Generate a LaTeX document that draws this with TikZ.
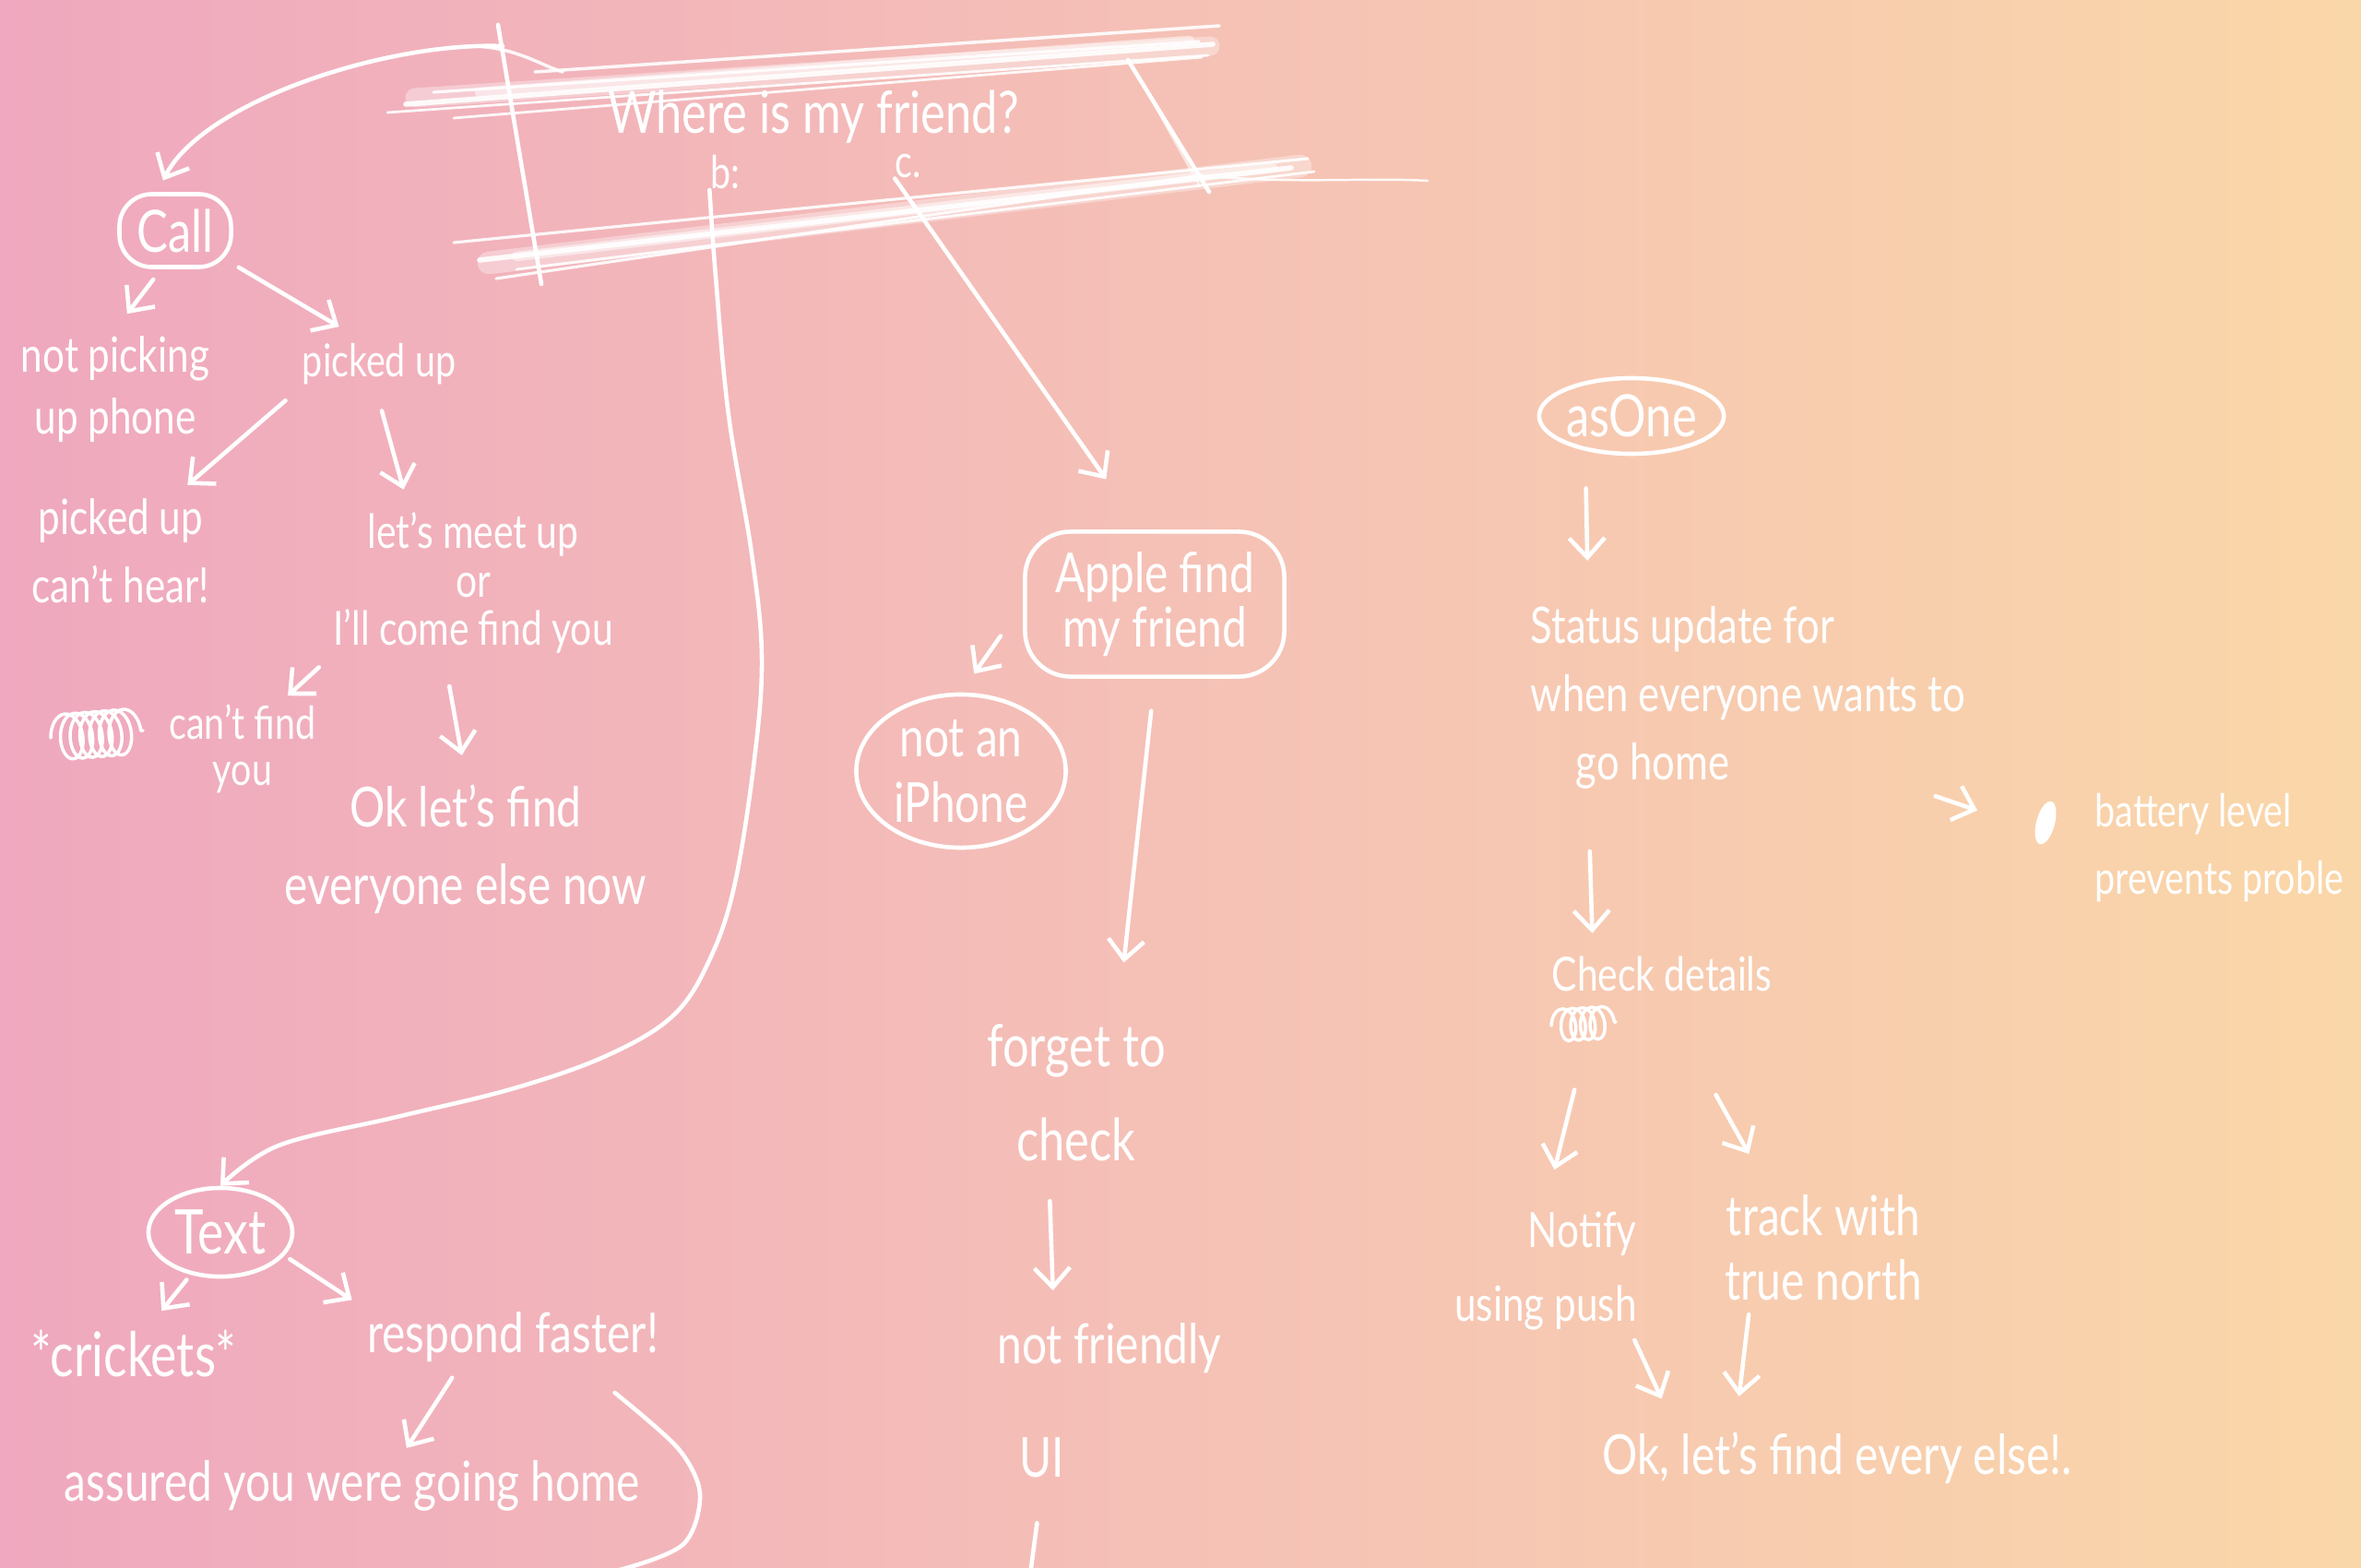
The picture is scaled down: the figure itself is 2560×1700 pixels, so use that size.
\documentclass[tikz,border=0pt]{standalone}
\usepackage{fontspec}
\setmainfont{Lato}[FakeStretch=0.8]
\usetikzlibrary{arrows.meta,shapes.geometric,decorations.pathmorphing}
\definecolor{bgL}{RGB}{239,168,191}
\definecolor{bgM}{RGB}{245,193,182}
\definecolor{bgR}{RGB}{250,215,168}
\begin{document}
\begin{tikzpicture}[x=0.01cm,y=-0.01cm,
  ink/.style={draw=white,line width=1.3pt,line cap=round,line join=round},
  arr/.style={ink,-{Straight Barb[length=6pt,width=11pt]}},
  chalk/.style={draw=white,line cap=round,opacity=#1},
  chalk/.default=0.9,
  lbl/.style n args={2}{text=white,align=center,inner sep=2pt,font=\fontsize{#1}{#2}\selectfont},
  frame/.style={draw=white,line width=1.3pt},
]
% background
\shade[left color=bgL,right color=bgR,middle color=bgM] (0,0) rectangle (2560,1700);
\useasboundingbox (0,0) rectangle (2560,1700);

% title band, top
\draw[chalk=0.35,line width=6pt] (450,106) -- (1312,50);
\draw[chalk=0.5,line width=3pt] (520,100) -- (1290,44);
\draw[chalk,line width=1.6pt] (440,113) -- (1315,48);
\draw[chalk,line width=0.9pt] (470,100) -- (1300,45);
\draw[chalk,line width=0.8pt] (420,122) -- (1310,60);
\draw[chalk,line width=0.8pt] (492,128) -- (1303,62);
\draw[chalk,line width=1pt] (580,78) -- (1322,28);
\draw[chalk,line width=1pt] (515,50) .. controls (560,52) and (585,70) .. (610,78);
% title band, bottom
\draw[chalk=0.35,line width=7pt] (530,285) -- (1410,180);
\draw[chalk=0.5,line width=3pt] (560,278) -- (1380,182);
\draw[chalk,line width=1.6pt] (520,282) -- (1400,182);
\draw[chalk,line width=0.9pt] (492,263) -- (1418,172);
\draw[chalk,line width=0.9pt] (538,302) -- (1303,190);
\draw[chalk,line width=0.8pt] (560,292) -- (1425,186);
\draw[chalk,line width=0.7pt] (1300,190) .. controls (1400,200) and (1480,192) .. (1548,196);
% title band, sides
\draw[ink] (540,27) -- (587,308);
\draw[ink] (1223,65) -- (1311,208);
\draw[chalk=0.6,line width=0.8pt] (1250,110) -- (1300,200);

\node[lbl={18}{22},inner sep=0pt,text depth=0pt] (title) at (882,121) {Where is my friend?};
\node[lbl={14}{16},inner sep=0pt] (b) at (786,187) {b:};
\node[lbl={14}{16},inner sep=0pt] (c) at (985,180) {c.};
\coordinate (tl) at (545,50);

% left tree
\node[lbl={18}{22},frame,rounded corners=10pt,minimum width=1.21cm,minimum height=0.79cm] (call) at (190,250) {Call};
\node[lbl={15}{19}] (notpick) at (125,422) {not picking\\up phone};
\node[lbl={14}{16}] (picked) at (411,395) {picked up};
\node[lbl={15}{21}] (canthear) at (131,597) {picked up\\can't hear!};
\node[lbl={14.5}{15}] (meet) at (513,632) {let's meet up\\or\\I'll come find you};
\node[lbl={14}{14}] (cantfind) at (263,812) {can't find\\you};
\node[lbl={17}{24}] (okfind) at (505,921) {Ok let's find\\everyone else now};
\draw[ink,line width=1pt,decorate,decoration={coil,aspect=0.6,segment length=3pt,amplitude=7pt}] (55,800) -- (155,792);

\draw[arr,shorten >=4pt] (tl) .. controls (420,45) and (220,110) .. (call.115);
\draw[arr,shorten <=4pt,shorten >=6pt] (call.250) -- (notpick.north);
\draw[arr,shorten <=2pt,shorten >=6pt] (call.-30) -- (picked.130);
\draw[arr,shorten <=4pt,shorten >=3pt] (picked.south west) -- (canthear.45);
\draw[arr,shorten <=6pt,shorten >=5pt] (picked.265) -- (meet.130);
\draw[arr,shorten <=3pt,shorten >=1pt] (meet.south west) -- (cantfind.50);
\draw[arr,shorten <=8pt,shorten >=7pt] (meet.250) -- (okfind.north);

% middle column
\node[lbl={17}{17},frame,rounded corners=14pt,minimum width=2.81cm,minimum height=1.57cm] (apple) at (1252,655) {Apple find\\my friend};
\node[lbl={17}{20},frame,ellipse,minimum width=2.27cm,minimum height=1.66cm,inner sep=0pt] (iphone) at (1042,836) {not an\\iPhone};
\node[lbl={18}{29}] (forget) at (1167,1185) {forget to\\check};
\node[lbl={17}{20}] (nf) at (1203,1462) {not friendly};
\node[lbl={17}{20}] (ui) at (1130,1580) {UI};
\coordinate (uiend) at (1114,1730);

\draw[arr,shorten >=19pt] (c.south west) -- (apple.100);
\draw[arr,shorten <=12pt,shorten >=7pt] (apple.west) -- (iphone.north);
\draw[arr,shorten <=10pt,shorten >=17pt] (apple.south) -- ([xshift=0.45cm]forget.north);
\draw[arr,shorten <=10pt,shorten >=8pt] (forget.250) -- (nf.150);
\draw[ink,shorten <=12pt] (ui.south) -- (uiend);

% text branch
\node[lbl={19}{22},frame,ellipse,minimum width=1.56cm,minimum height=0.96cm,inner sep=0pt] (textn) at (239,1336) {Text};
\node[lbl={19}{22}] (crickets) at (145,1468) {*crickets*};
\node[lbl={17}{20}] (respond) at (556,1450) {respond faster!};
\node[lbl={17}{20}] (assured) at (382,1611) {assured you were going home};

\draw[arr] plot[smooth,tension=0.6] coordinates {(b.south west) (776,300) (790,450) (815,600) (826,712) (818,823) (797,957) (771,1037) (731,1100) (659,1144) (557,1180) (430,1211) (302,1242) (textn.north)};
\draw[arr,shorten <=2pt,shorten >=5pt] (textn.235) -- (crickets.60);
\draw[arr,shorten <=2pt,shorten >=3pt] (textn.-20) -- (respond.north west);
\draw[arr,shorten <=3pt,shorten >=2pt] ([xshift=-0.6cm]respond.south) -- ([xshift=0.55cm]assured.north);
\draw[ink] plot[smooth] coordinates {([shift={(-55,25)}]respond.south east) (735,1570) (759,1620) (740,1675) (660,1705) (570,1715)};

% right flow
\node[lbl={18}{22},frame,ellipse,minimum width=1.68cm,minimum height=0.82cm,inner sep=0pt] (asone) at (1769,451) {asOne};
\node[lbl={15.5}{21},align=left,anchor=north west] (status) at (1652,650) {Status update for\\when everyone wants to\\\hspace{14pt}go home};
\fill[white,rotate around={-15:(2218,892)}] (2218,892) ellipse [x radius=0.1cm,y radius=0.24cm];
\node[lbl={14}{21},align=left,anchor=north west] (battery) at (2264,852) {battery level\\prevents proble};
\node[lbl={14.5}{17}] (check) at (1802,1056) {Check details};
\draw[ink,line width=1pt,decorate,decoration={coil,aspect=0.6,segment length=3pt,amplitude=5pt}] (1682,1112) -- (1752,1108);
\node[lbl={15}{23},align=right] (notify) at (1676,1378) {Notify\\using push};
\node[lbl={17}{20}] (track) at (1977,1353) {track with\\true north};
\node[lbl={17}{20}] (ok2) at (1992,1581) {Ok, let's find every else!.};

\draw[arr,shorten <=10pt,shorten >=12pt] ([xshift=-0.5cm]asone.south) -- ([xshift=0.7cm]status.north west);
\draw[arr,shorten >=36pt] ([xshift=-0.4cm]status.south east) -- (battery.west);
\draw[arr,shorten <=17pt,shorten >=5pt] ([xshift=0.7cm]status.south west) -- ([xshift=-0.75cm]check.north);
\draw[arr,shorten <=29pt,shorten >=11pt] ([xshift=-0.7cm]check.south) -- (notify.north);
\draw[arr,shorten <=34pt,shorten >=12pt] (check.south) -- ([xshift=-0.6cm]track.north);
\draw[arr,shorten >=9pt] ([shift={(-10,75)}]notify.east) -- ([xshift=-1.77cm]ok2.north);
\draw[arr,shorten <=2pt,shorten >=9pt] ([xshift=-0.8cm]track.south) -- ([xshift=-1.1cm]ok2.north);
\end{tikzpicture}
\end{document}
